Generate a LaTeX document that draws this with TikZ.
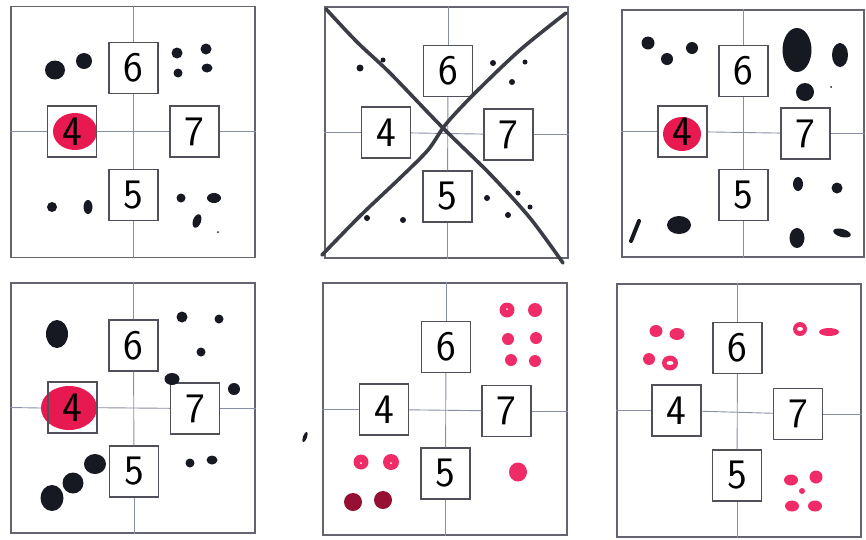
\documentclass[tikz,border=0pt]{standalone}
\usetikzlibrary{positioning}
\definecolor{framegray}{RGB}{100,100,112}
\definecolor{boxgray}{RGB}{80,80,90}
\definecolor{gridblue}{RGB}{135,142,165}
\definecolor{inkblack}{RGB}{22,24,34}
\definecolor{blobred}{RGB}{232,24,80}
\definecolor{dotpink}{RGB}{240,44,104}
\definecolor{dotdark}{RGB}{150,16,52}
\definecolor{crossgray}{RGB}{58,60,70}

\begin{document}
\begin{tikzpicture}[
  x=1pt, y=-1pt,
  panel/.style={draw=framegray, line width=1.2pt, minimum width=244pt, minimum height=251pt, inner sep=0pt},
  numbox/.style={draw=boxgray, line width=1.1pt, minimum width=49pt, minimum height=51pt, inner sep=0pt, font=\sffamily\fontsize{42}{42}\selectfont},
  gridline/.style={draw=gridblue, line width=0.9pt},
  ink/.style={fill=inkblack},
  redblob/.style={fill=blobred},
  pinkdot/.style={fill=dotpink},
  darkdot/.style={fill=dotdark},
  speck/.style={fill=white},
  crossline/.style={draw=crossgray, line width=3.6pt, line cap=round}
]
\useasboundingbox (0,0) rectangle (866,539);

% top left
\node[panel] (tlframe) at (133,132) {};
\fill[redblob] (75,131.5) ellipse [x radius=22, y radius=18.5];
\node[numbox] (tl6) at (133.5,68) {6};
\node[numbox] (tl4) at (72,131.5) {4};
\node[numbox] (tl7) at (194.5,131.5) {7};
\node[numbox] (tl5) at (133.5,195) {5};
\draw[gridline] (tl6 |- tlframe.north) -- (tl6);
\draw[gridline] (tl6) -- (tl5);
\draw[gridline] (tl5) -- (tl5 |- tlframe.south);
\draw[gridline] (tl4 -| tlframe.west) -- (tl4);
\draw[gridline] (tl4) -- (tl7);
\draw[gridline] (tl7) -- (tl7 -| tlframe.east);
\fill[ink] (55,70) ellipse [x radius=10, y radius=9.5];
\fill[ink] (84,61) circle [radius=8];
\fill[ink] (177,53) circle [radius=5.5];
\fill[ink] (178,73) circle [radius=4.5];
\fill[ink] (206,49) circle [radius=5.5];
\fill[ink] (207,68) ellipse [x radius=5.5, y radius=4.5];
\fill[ink] (52,207) circle [radius=5];
\fill[ink] (88,207) ellipse [x radius=4.5, y radius=7];
\fill[ink] (181,198) circle [radius=4.5];
\fill[ink] (214,198) ellipse [x radius=7, y radius=5];
\fill[ink] (197,221) ellipse [x radius=4, y radius=7, rotate=-20];
\fill[ink] (218,232) circle [radius=1];

% top middle
\node[panel, minimum width=243pt] (tmframe) at (446.5,132.5) {};
\node[numbox] (tm6) at (448,71) {6};
\node[numbox] (tm4) at (386,132.5) {4};
\node[numbox] (tm7) at (508.5,134.5) {7};
\node[numbox] (tm5) at (447.5,196.5) {5};
\draw[gridline] (tm6 |- tmframe.north) -- (tm6);
\draw[gridline] (tm6) -- (tm5);
\draw[gridline] (tm5) -- (tm5 |- tmframe.south);
\draw[gridline] (tm4 -| tmframe.west) -- (tm4);
\draw[gridline] (tm4) -- (tm7);
\draw[gridline] (tm7) -- (tm7 -| tmframe.east);
\fill[ink] (360,68) circle [radius=3.5];
\fill[ink] (383,60) circle [radius=2.5];
\fill[ink] (493,63) circle [radius=3];
\fill[ink] (525,62) circle [radius=2.5];
\fill[ink] (512,82) circle [radius=3];
\fill[ink] (367,218) circle [radius=3];
\fill[ink] (403,220) circle [radius=3];
\fill[ink] (487,198) circle [radius=3];
\fill[ink] (518,193) circle [radius=2.5];
\fill[ink] (530,207) circle [radius=2.5];
\fill[ink] (508,215) circle [radius=3];
\draw[crossline] plot[smooth] coordinates {(326,9) (357,42) (390,73) (442,127) (490,174) (530,218) (563,263)};
\draw[crossline] plot[smooth] coordinates {(566,13) (520,50) (475,93) (446,124) (428,150) (400,178) (360,216) (322,255)};

% top right
\node[panel, minimum width=242pt, minimum height=247pt] (trframe) at (743,133.5) {};
\fill[redblob] (682,134) ellipse [x radius=19, y radius=17];
\node[numbox] (tr6) at (743.5,71) {6};
\node[numbox] (tr4) at (682.5,131.5) {4};
\node[numbox] (tr7) at (805.5,133.5) {7};
\node[numbox] (tr5) at (743.5,195) {5};
\draw[gridline] (tr6 |- trframe.north) -- (tr6);
\draw[gridline] (tr6) -- (tr5);
\draw[gridline] (tr5) -- (tr5 |- trframe.south);
\draw[gridline] (tr4 -| trframe.west) -- (tr4);
\draw[gridline] (tr4) -- (tr7);
\draw[gridline] (tr7) -- (tr7 -| trframe.east);
\fill[ink] (648,43) circle [radius=6.5];
\fill[ink] (667,59) circle [radius=6];
\fill[ink] (692,48) circle [radius=6];
\fill[ink] (797,50) ellipse [x radius=14.5, y radius=22];
\fill[ink] (840,55) ellipse [x radius=8, y radius=12];
\fill[ink] (805,92) circle [radius=9];
\fill[ink] (831,87) circle [radius=1];
\fill[ink] (798,184) ellipse [x radius=5, y radius=7];
\fill[ink] (837,188) circle [radius=5.5];
\fill[ink] (797,238) ellipse [x radius=7.5, y radius=10];
\fill[ink] (842,233) ellipse [x radius=9, y radius=4, rotate=-15];
\fill[ink] (679,225) ellipse [x radius=12, y radius=9];
\draw[inkblack, line width=4pt, line cap=round] (631,241) -- (639,221);

% bottom left
\node[panel, minimum height=250pt] (blframe) at (133,408) {};
\fill[redblob] (69,408) ellipse [x radius=28, y radius=22];
\node[numbox] (bl6) at (133.5,345.5) {6};
\node[numbox] (bl4) at (72.5,407.5) {4};
\node[numbox] (bl7) at (195,408.5) {7};
\node[numbox] (bl5) at (134,471.5) {5};
\draw[gridline] (bl6 |- blframe.north) -- (bl6);
\draw[gridline] (bl6) -- (bl5);
\draw[gridline] (bl5) -- (bl5 |- blframe.south);
\draw[gridline] (bl4 -| blframe.west) -- (41,408);
\draw[gridline] (bl4) -- (bl7);
\draw[gridline] (bl7) -- (bl7 -| blframe.east);
\fill[ink] (57,334) ellipse [x radius=11, y radius=14];
\fill[ink] (182,317) circle [radius=5.5];
\fill[ink] (219,319) circle [radius=4.5];
\fill[ink] (201,352) circle [radius=4.5];
\fill[ink] (172,379) ellipse [x radius=7.5, y radius=6];
\fill[ink] (234,389) circle [radius=6];
\fill[ink] (95,464) ellipse [x radius=11, y radius=10];
\fill[ink] (73,483) circle [radius=10.5];
\fill[ink] (52,498) ellipse [x radius=11.5, y radius=13];
\fill[ink] (190,463) circle [radius=4.5];
\fill[ink] (212,460) ellipse [x radius=5.5, y radius=4.5];

% bottom middle
\node[panel, minimum height=252pt] (bmframe) at (445,409) {};
\node[numbox] (bm6) at (446,347) {6};
\node[numbox] (bm4) at (384,409.5) {4};
\node[numbox] (bm7) at (506.5,411) {7};
\node[numbox] (bm5) at (445.5,473.5) {5};
\draw[gridline] (bm6 |- bmframe.north) -- (bm6);
\draw[gridline] (bm6) -- (bm5);
\draw[gridline] (bm5) -- (bm5 |- bmframe.south);
\draw[gridline] (bm4 -| bmframe.west) -- (bm4);
\draw[gridline] (bm4) -- (bm7);
\draw[gridline] (bm7) -- (bm7 -| bmframe.east);
\fill[pinkdot] (507,310) circle [radius=7.5];
\fill[pinkdot] (535,310) circle [radius=7];
\fill[pinkdot] (508,339) circle [radius=6];
\fill[pinkdot] (536,338) circle [radius=6];
\fill[pinkdot] (511,360) circle [radius=6];
\fill[pinkdot] (535,361) circle [radius=6];
\fill[pinkdot] (361,462) circle [radius=7.5];
\fill[pinkdot] (391,462) circle [radius=8];
\fill[darkdot] (353,502) circle [radius=9];
\fill[darkdot] (383,500) circle [radius=9];
\fill[pinkdot] (518,472) ellipse [x radius=9, y radius=9.5];
\fill[speck] (507,309) circle [radius=1];
\fill[speck] (361,463) circle [radius=1];
\fill[speck] (391,463) circle [radius=1];
\fill[ink] (305,437) ellipse [x radius=2, y radius=5.5, rotate=-20];

% bottom right
\node[panel, minimum height=253pt] (brframe) at (739,410.5) {};
\node[numbox] (br6) at (737.5,348) {6};
\node[numbox] (br4) at (676.5,410.5) {4};
\node[numbox] (br7) at (798,414) {7};
\node[numbox] (br5) at (737,475.5) {5};
\draw[gridline] (br6 |- brframe.north) -- (br6);
\draw[gridline] (br6) -- (br5);
\draw[gridline] (br5) -- (br5 |- brframe.south);
\draw[gridline] (br4 -| brframe.west) -- (br4);
\draw[gridline] (br4) -- (br7);
\draw[gridline] (br7) -- (br7 -| brframe.east);
\fill[pinkdot] (656,331) ellipse [x radius=6.5, y radius=6];
\fill[pinkdot] (677,334) ellipse [x radius=7.5, y radius=6];
\fill[pinkdot] (649,359) circle [radius=6];
\fill[pinkdot] (670,363) ellipse [x radius=8, y radius=7.5];
\fill[speck] (670,363) ellipse [x radius=3.5, y radius=2];
\fill[pinkdot] (800,329) circle [radius=7];
\fill[speck] (800,329) ellipse [x radius=3, y radius=2];
\fill[pinkdot] (829,332) ellipse [x radius=10, y radius=4];
\fill[pinkdot] (791,480) ellipse [x radius=7, y radius=5.5];
\fill[pinkdot] (816,477) circle [radius=6.5];
\fill[pinkdot] (802,491) circle [radius=3];
\fill[pinkdot] (792,506) ellipse [x radius=7, y radius=5.5];
\fill[pinkdot] (815,506) ellipse [x radius=7, y radius=5.5];
\end{tikzpicture}
\end{document}
